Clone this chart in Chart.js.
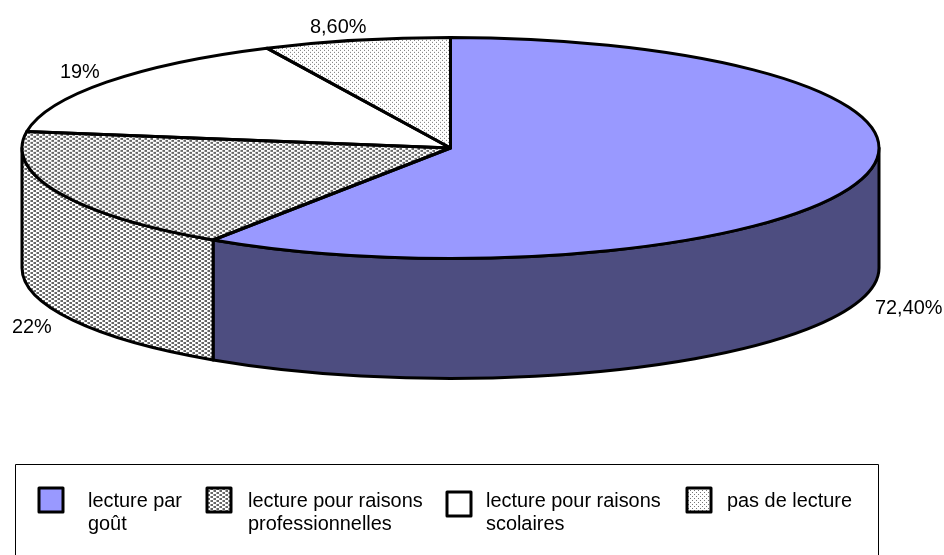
<!DOCTYPE html>
<html>
<head>
<meta charset="utf-8">
<script src="https://cdn.jsdelivr.net/npm/chart.js@4/dist/chart.umd.min.js"></script>
<style>
  html, body { margin: 0; padding: 0; background: #fff; }
  #wrap { position: relative; width: 944px; height: 555px; overflow: hidden; }
</style>
</head>
<body>
<div id="wrap"><canvas id="pie" width="944" height="555"></canvas></div>
<script>
// Chart data
const categories = [
    ['lecture par', 'goût'],
    ['lecture pour raisons', 'professionnelles'],
    ['lecture pour raisons', 'scolaires'],
    ['pas de lecture']
];
const shares = [72.4, 22, 19, 8.6];
const shareLabels = ['72,40%', '22%', '19%', '8,60%'];

// Drawing setup
const CX = 450.5, CY = 148, RX = 428.5, RY = 110.5, DEPTH = 120;
const FONT = '19.9px "Liberation Sans", Arial, sans-serif';
const labelSpots = [[875, 314], [12, 333], [60, 78], [310, 33]];
const legendSpots = [
    { box: [39, 488], text: 88 },
    { box: [207, 488], text: 248 },
    { box: [447, 492], text: 486 },
    { box: [687, 488], text: 727 }
];

// Small pixel tiles for the two hatched fills
function makeTile(rows, ink) {
    const tile = document.createElement('canvas');
    tile.width = rows[0].length;
    tile.height = rows.length;
    const c = tile.getContext('2d');
    c.fillStyle = '#fff';
    c.fillRect(0, 0, tile.width, tile.height);
    rows.forEach((row, y) => {
        [...row].forEach((cell, x) => {
            if (cell === '#') { c.fillStyle = ink; c.fillRect(x, y, 1, 1); }
            if (cell === '+') { c.fillStyle = '#aaa'; c.fillRect(x, y, 1, 1); }
        });
    });
    return tile;
}
const weaveTile = makeTile([
    '+##...',
    '+##...',
    '...+##',
    '...+##'
], '#666');
const dotTile = makeTile([
    '#...',
    '....',
    '..#.',
    '....'
], '#777');

function flatPattern(ctx, tile) {
    return ctx.createPattern(tile, 'repeat');
}
function squashedPattern(ctx, tile) {
    // undoes the vertical squash applied to the top face
    const p = ctx.createPattern(tile, 'repeat');
    p.setTransform(new DOMMatrix([1, 0, 0, RX / RY, 0, 0]));
    return p;
}

const canvas = document.getElementById('pie');
const ctx2d = canvas.getContext('2d');
const topFills = [
    '#9999ff',
    squashedPattern(ctx2d, weaveTile),
    '#ffffff',
    squashedPattern(ctx2d, dotTile)
];
const sideFills = ['#4d4d80', flatPattern(ctx2d, weaveTile), '#ffffff', flatPattern(ctx2d, dotTile)];
const legendFills = ['#9999ff', flatPattern(ctx2d, weaveTile), '#ffffff', flatPattern(ctx2d, dotTile)];

const pie3d = {
    id: 'pie3d',
    beforeDatasetsDraw(chart) {
        const ctx = chart.ctx;
        const arcs = chart.getDatasetMeta(0).data;
        ctx.save();
        ctx.lineWidth = 3;
        ctx.lineJoin = 'round';
        ctx.strokeStyle = '#000';
        // side wall, only the front half of the cylinder shows
        arcs.forEach((arc, i) => {
            const a = Math.max(arc.startAngle, 0);
            const b = Math.min(arc.endAngle, Math.PI);
            if (b <= a) return;
            ctx.beginPath();
            ctx.ellipse(arc.x, arc.y, RX, RY, 0, a, b);
            ctx.ellipse(arc.x, arc.y + DEPTH, RX, RY, 0, b, a, true);
            ctx.closePath();
            ctx.fillStyle = sideFills[i];
            ctx.fill();
            ctx.stroke();
        });
        ctx.restore();
        // the top face is a normal pie squashed into an ellipse
        ctx.save();
        ctx.translate(CX, CY);
        ctx.scale(1, RY / RX);
        ctx.translate(-CX, -CY);
    },
    afterDatasetsDraw(chart) {
        const ctx = chart.ctx;
        ctx.restore();
        const arcs = chart.getDatasetMeta(0).data;
        ctx.save();
        ctx.lineWidth = 3;
        ctx.lineJoin = 'round';
        ctx.strokeStyle = '#000';
        arcs.forEach(arc => {
            ctx.beginPath();
            ctx.moveTo(arc.x, arc.y);
            ctx.ellipse(arc.x, arc.y, RX, RY, 0, arc.startAngle, arc.endAngle);
            ctx.closePath();
            ctx.stroke();
        });

        ctx.fillStyle = '#000';
        ctx.font = FONT;
        ctx.textAlign = 'left';
        ctx.textBaseline = 'alphabetic';
        shareLabels.forEach((label, i) => {
            ctx.fillText(label, labelSpots[i][0], labelSpots[i][1]);
        });

        // legend frame runs off the bottom edge like in the source
        ctx.lineWidth = 1;
        ctx.strokeRect(15.5, 464.5, 863, 100);
        categories.forEach((lines, i) => {
            const spot = legendSpots[i];
            ctx.lineWidth = 3;
            ctx.fillStyle = legendFills[i];
            ctx.fillRect(spot.box[0], spot.box[1], 24, 24);
            ctx.strokeRect(spot.box[0], spot.box[1], 24, 24);
            ctx.fillStyle = '#000';
            lines.forEach((line, n) => {
                ctx.fillText(line, spot.text, 507 + n * 23);
            });
        });
        ctx.restore();
    }
};

new Chart(canvas, {
    type: 'pie',
    data: {
        labels: categories.map(lines => lines.join(' ')),
        datasets: [{
            data: shares,
            backgroundColor: topFills,
            borderWidth: 0,
            clip: false
        }]
    },
    options: {
        responsive: false,
        animation: false,
        radius: RX,
        events: [],
        layout: { padding: { left: 0, right: 944 - 2 * CX, top: 0, bottom: 555 - 2 * CY } },
        plugins: { legend: { display: false }, tooltip: { enabled: false } }
    },
    plugins: [pie3d]
});
</script>
</body>
</html>
